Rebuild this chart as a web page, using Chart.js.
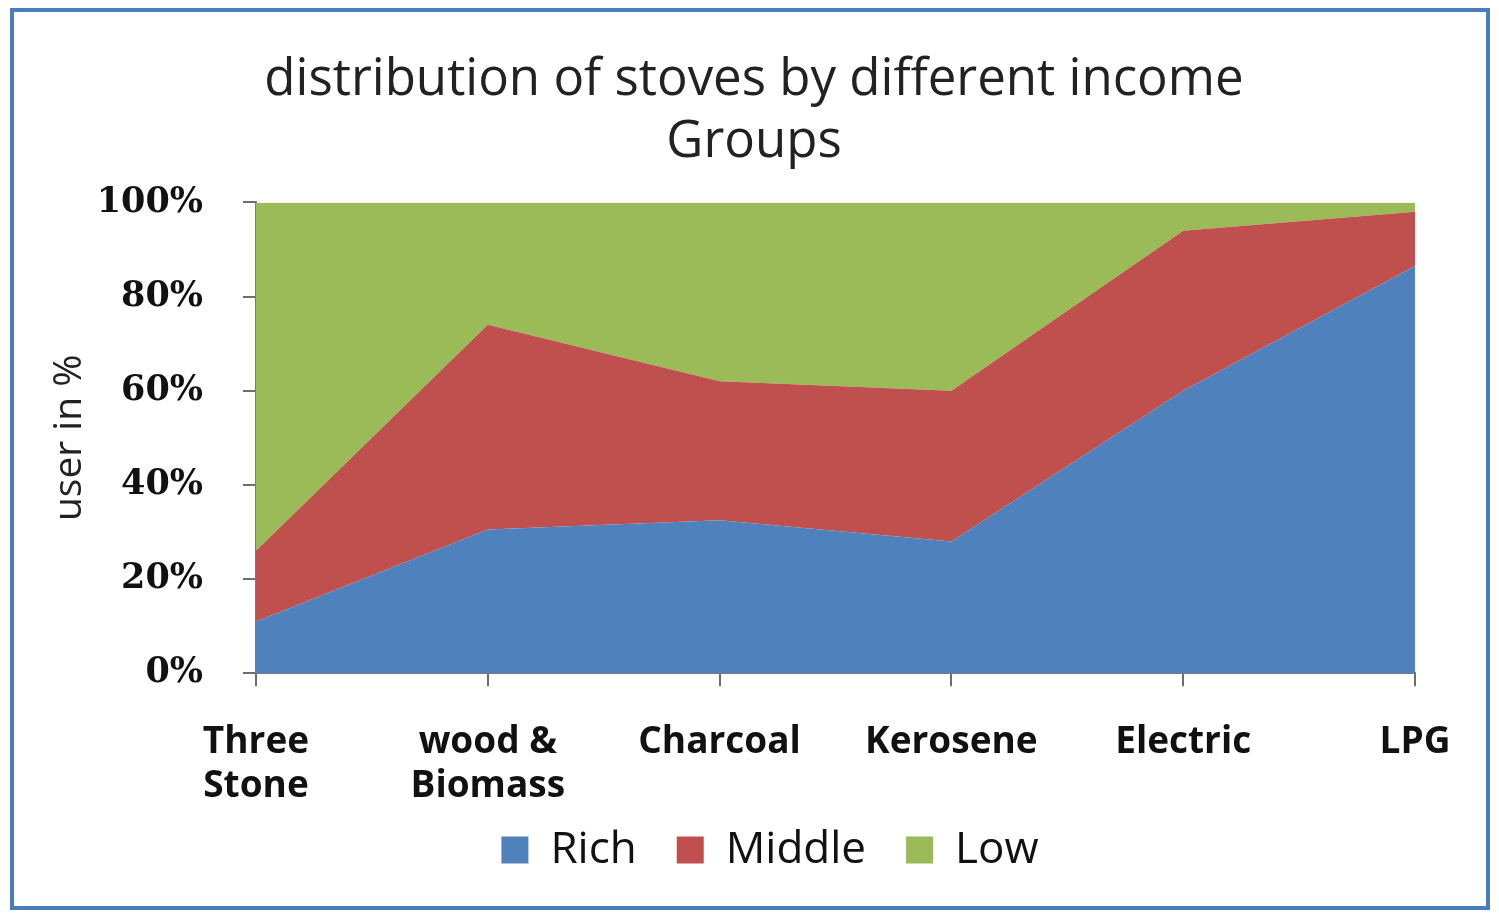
<!DOCTYPE html>
<html>
<head>
<meta charset="utf-8">
<script src="https://cdn.jsdelivr.net/npm/chart.js@4.4.0/dist/chart.umd.min.js"></script>
<style>
  html, body { margin: 0; padding: 0; background: #ffffff; }
  body { width: 1499px; height: 914px; position: relative; overflow: hidden; }
  #frame {
    position: absolute; left: 10px; top: 8px; width: 1480px; height: 902px;
    box-sizing: border-box; border: 4px solid #4a7ebb; background: #ffffff;
  }
  #wrap { position: absolute; left: 0; top: 0; width: 1499px; height: 914px; }
</style>
</head>
<body>
<div id="frame"></div>
<div id="wrap"><canvas id="c"></canvas></div>
<script>
const categories = [["Three", "Stone"], ["wood &", "Biomass"], "Charcoal", "Kerosene", "Electric", "LPG"];
const richValues = [11, 30.5, 32.5, 28, 60, 86.5];
const middleValues = [15, 43.5, 29.5, 32, 34, 11.5];
const lowValues = [74, 26, 38, 40, 6, 2];
const seriesNames = ["Rich", "Middle", "Low"];
const seriesColors = ["#4f81bd", "#c0504d", "#9bbb59"];
const yTickValues = [0, 20, 40, 60, 80, 100];
const titleLines = ["distribution of stoves by different income", "Groups"];
const yAxisTitle = "user in %";

const seriesData = [richValues, middleValues, lowValues];
const datasets = seriesData.map((vals, i) => ({
  label: seriesNames[i],
  data: vals,
  backgroundColor: seriesColors[i],
  borderColor: seriesColors[i],
  borderWidth: 0,
  pointRadius: 0,
  pointHoverRadius: 0,
  tension: 0,
  fill: i === 0 ? 'origin' : '-1'
}));

// nudge legend and title boxes after layout (positions only)
const nudgePlugin = {
  id: 'nudge',
  afterLayout(chart) {
    const lg = chart.legend;
    if (lg) { lg.top -= 55; lg.bottom -= 55; lg.left += 10; lg.right += 10; }
    const tb = chart.titleBlock;
    if (tb) { tb.left -= 6; tb.right -= 6; }
  }
};

new Chart(document.getElementById('c'), {
  type: 'line',
  data: { labels: categories, datasets: datasets },
  plugins: [nudgePlugin],
  options: {
    responsive: true,
    maintainAspectRatio: false,
    animation: false,
    layout: { padding: { left: 50, right: 29, top: 49, bottom: -23 } },
    plugins: {
      title: {
        display: true,
        text: titleLines,
        color: '#222222',
        font: { family: 'Open Sans', size: 51, weight: 'normal', lineHeight: 1.22 },
        padding: { top: 0, bottom: 29 }
      },
      legend: {
        display: true,
        position: 'bottom',
        labels: {
          boxWidth: 27, boxHeight: 27, padding: 40,
          color: '#111111',
          font: { family: 'Open Sans', size: 44 }
        }
      },
      tooltip: { enabled: false }
    },
    scales: {
      x: {
        offset: false,
        afterFit: (scale) => { scale.paddingRight = 84; },
        grid: { display: true, drawOnChartArea: false, drawTicks: true, tickLength: 13, color: '#6d6d6d', lineWidth: 2 },
        border: { display: true, color: '#7a7a7a', width: 2 },
        ticks: {
          color: '#111111', padding: 34, maxRotation: 0, autoSkip: false,
          font: { family: 'Open Sans', size: 37, weight: 'bold', lineHeight: 1.2 }
        }
      },
      y: {
        stacked: true,
        min: 0, max: 100,
        afterBuildTicks: (axis) => { axis.ticks = yTickValues.map(v => ({ value: v })); },
        afterFit: (scale) => { scale.width = 206; },
        grid: { display: true, drawOnChartArea: false, drawTicks: true, tickLength: 13, color: '#6d6d6d', lineWidth: 2 },
        border: { display: true, color: '#7a7a7a', width: 2 },
        title: {
          display: true, text: yAxisTitle, color: '#222222',
          font: { family: 'Open Sans', size: 39, weight: 'normal', lineHeight: 1.0 },
          padding: { top: 0, bottom: 8 }
        },
        ticks: {
          color: '#111111', padding: 40,
          font: { family: 'DejaVu Serif', size: 35, weight: 'bold' },
          callback: (v) => v + '%'
        }
      }
    }
  }
});
</script>
</body>
</html>
